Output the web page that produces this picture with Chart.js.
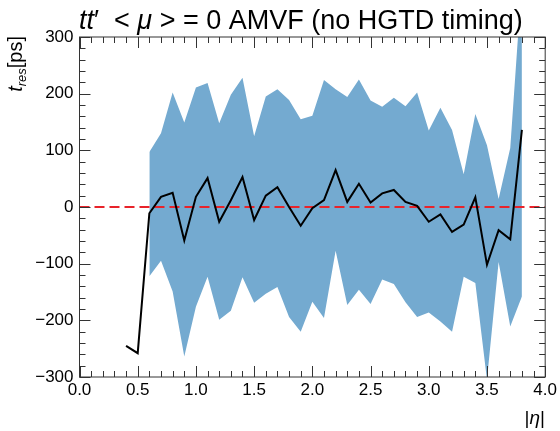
<!DOCTYPE html>
<html>
<head>
<meta charset="utf-8">
<script src="https://cdn.jsdelivr.net/npm/chart.js@4.4.0/dist/chart.umd.min.js"></script>
<style>
  html, body { margin: 0; padding: 0; background: #fff; }
  #wrap { width: 560px; height: 431px; }
</style>
</head>
<body>
<div id="wrap"><canvas id="grafico"></canvas></div>
<script>
// |eta| bin centres
const eta = [0.4, 0.5, 0.6, 0.7, 0.8, 0.9, 1.0, 1.1, 1.2, 1.3, 1.4, 1.5, 1.6, 1.7, 1.8, 1.9, 2.0, 2.1,
             2.2, 2.3, 2.4, 2.5, 2.6, 2.7, 2.8, 2.9, 3.0, 3.1, 3.2, 3.3, 3.4, 3.5, 3.6, 3.7, 3.8];
// mean t_res [ps]
const tMean = [-245, -258, -11, 18, 25, -59, 18, 51, -26, 12, 53, -23, 20, 35, 0, -33, -2, 12,
               65, 9, 41, 8, 24, 30, 9, 2, -26, -13, -44, -31, 17, -102, -41, -57, 136];
// band (mean +/- sigma), no band for the first two bins
const tUp = [null, null, 97, 130, 202, 149, 211, 219, 148, 198, 228, 125, 195, 208, 189, 155, 161, 224,
             208, 194, 225, 188, 177, 193, 178, 202, 135, 175, 136, 58, 164, 109, 14, 104, 400];
const tDown = [null, null, -122, -95, -149, -264, -176, -123, -199, -183, -124, -169, -153, -141, -194, -220, -167, -196,
               -77, -173, -146, -171, -128, -136, -168, -194, -186, -202, -220, -123, -134, -305, -97, -211, -158];

const xTicks = [0.0, 0.5, 1.0, 1.5, 2.0, 2.5, 3.0, 3.5, 4.0];
const yTicks = [-300, -200, -100, 0, 100, 200, 300];
const refLevel = 0;

const fonte = '"Liberation Sans", Arial, Helvetica, sans-serif';

function pontos(valores) {
    return eta.map((x, i) => ({ x: x, y: valores[i] }));
}

// desenha texto com pedaços italicos / subscritos
function textoRico(ctx, partes, x, y, alinhar) {
    let total = 0;
    partes.forEach(p => {
        ctx.font = (p.it ? 'italic ' : '') + p.size + 'px ' + fonte;
        p.w = ctx.measureText(p.t).width;
        total += p.w;
    });
    let cx = alinhar === 'right' ? x - total : x;
    ctx.textAlign = 'left';
    ctx.textBaseline = 'alphabetic';
    partes.forEach(p => {
        ctx.font = (p.it ? 'italic ' : '') + p.size + 'px ' + fonte;
        ctx.fillText(p.t, cx, y + (p.dy || 0));
        cx += p.w;
    });
}

// ticks para dentro, moldura e textos
const molduraPlugin = {
    id: 'moldura',
    afterDraw(chart) {
        const ctx = chart.ctx;
        const a = chart.chartArea;
        const xs = chart.scales.x;
        const ys = chart.scales.y;
        ctx.save();
        ctx.strokeStyle = '#333';
        ctx.lineWidth = 1;
        ctx.strokeRect(a.left, a.top, a.right - a.left, a.bottom - a.top);

        ctx.beginPath();
        for (let i = 0; i <= 40; i++) {
            const v = xs.min + i * 0.1;
            const px = Math.round(xs.getPixelForValue(v)) + 0.5;
            const len = i % 5 === 0 ? 11 : 6;
            ctx.moveTo(px, a.bottom); ctx.lineTo(px, a.bottom - len);
            ctx.moveTo(px, a.top); ctx.lineTo(px, a.top + len);
        }
        for (let i = 0; i <= 30; i++) {
            const v = ys.min + i * 20;
            const py = Math.round(ys.getPixelForValue(v)) + 0.5;
            const len = i % 5 === 0 ? 11 : 6;
            ctx.moveTo(a.left, py); ctx.lineTo(a.left + len, py);
            ctx.moveTo(a.right, py); ctx.lineTo(a.right - len, py);
        }
        ctx.stroke();

        ctx.fillStyle = '#000';
        // titulo
        textoRico(ctx, [
            { t: 'tt', it: true, size: 27 },
            { t: '\u2032', size: 27 },
            { t: '  < ', size: 27 },
            { t: '\u03bc', it: true, size: 27 },
            { t: ' > = 0 AMVF (no HGTD timing)', size: 27 }
        ], 79, 29);

        // eixo x
        textoRico(ctx, [
            { t: '|', size: 19 },
            { t: '\u03b7', it: true, size: 19 },
            { t: '|', size: 19 }
        ], 545, 424, 'right');

        // eixo y
        ctx.save();
        ctx.translate(22, 36);
        ctx.rotate(-Math.PI / 2);
        textoRico(ctx, [
            { t: 't', it: true, size: 20 },
            { t: 'res', it: true, size: 13, dy: 4 },
            { t: '[ps]', size: 20 }
        ], 0, 0, 'right');
        ctx.restore();
        ctx.restore();
    }
};

new Chart(document.getElementById('grafico'), {
    type: 'line',
    data: {
        datasets: [
            {
                label: 'media',
                data: pontos(tMean),
                borderColor: '#000',
                borderWidth: 2,
                pointRadius: 0,
                tension: 0,
                fill: false
            },
            {
                label: 'zero',
                data: [{ x: xTicks[0], y: refLevel }, { x: xTicks[xTicks.length - 1], y: refLevel }],
                borderColor: '#e8232a',
                borderWidth: 2,
                borderDash: [10, 5],
                pointRadius: 0,
                fill: false
            },
            {
                label: 'sup',
                data: pontos(tUp),
                borderWidth: 0,
                borderColor: 'rgba(0,0,0,0)',
                backgroundColor: 'rgb(116,170,208)',
                pointRadius: 0,
                tension: 0,
                spanGaps: false,
                fill: '+1'
            },
            {
                label: 'inf',
                data: pontos(tDown),
                borderWidth: 0,
                borderColor: 'rgba(0,0,0,0)',
                pointRadius: 0,
                tension: 0,
                spanGaps: false,
                fill: false
            }
        ]
    },
    options: {
        responsive: true,
        maintainAspectRatio: false,
        animation: false,
        layout: { padding: { top: 37, right: 14.5, left: 0, bottom: 0 } },
        plugins: {
            legend: { display: false },
            title: { display: false },
            tooltip: { enabled: false }
        },
        scales: {
            x: {
                type: 'linear',
                min: xTicks[0],
                max: xTicks[xTicks.length - 1],
                afterBuildTicks: s => { s.ticks = xTicks.map(v => ({ value: v })); },
                afterFit: s => { s.height = 54; },
                grid: { display: false, drawTicks: false },
                border: { display: false },
                ticks: {
                    padding: 3,
                    color: '#000',
                    font: { family: fonte, size: 17 },
                    maxRotation: 0,
                    callback: v => Number(v).toFixed(1)
                }
            },
            y: {
                type: 'linear',
                min: yTicks[0],
                max: yTicks[yTicks.length - 1],
                afterBuildTicks: s => { s.ticks = yTicks.map(v => ({ value: v })); },
                afterFit: s => { s.width = 79.5; },
                grid: { display: false, drawTicks: false },
                border: { display: false },
                ticks: {
                    padding: 6,
                    color: '#000',
                    font: { family: fonte, size: 17 },
                    callback: v => v < 0 ? '\u2212' + Math.abs(v) : String(v)
                }
            }
        }
    },
    plugins: [molduraPlugin]
});
</script>
</body>
</html>
